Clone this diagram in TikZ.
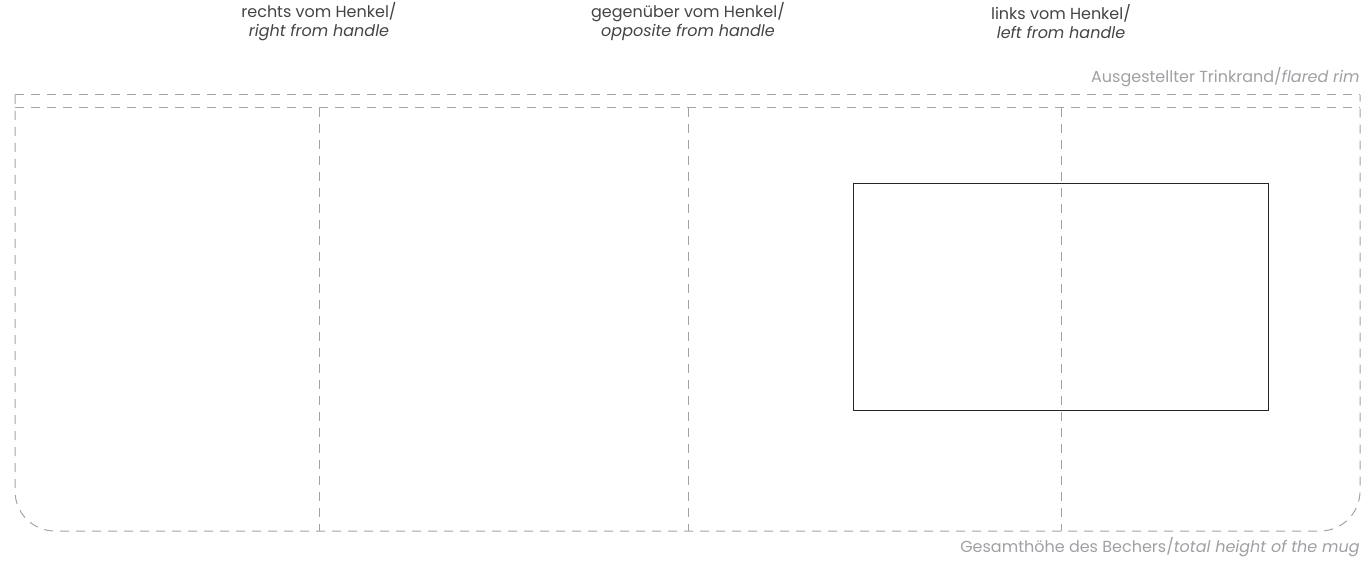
\documentclass[tikz,border=0pt]{standalone}
\usepackage{fontspec}
\setmainfont{Poppins}
\usepackage{tikz}
\usetikzlibrary{positioning}

\definecolor{linegray}{HTML}{A3A3A7}
\definecolor{labelgray}{HTML}{A0A0A4}
\definecolor{textdark}{HTML}{444444}

\tikzset{
  guide/.style={draw=linegray, line width=0.5pt, dash pattern=on 4.5pt off 3.5pt},
  sidelabel/.style={font=\fontsize{8}{9.5}\selectfont, text=textdark, align=center, inner sep=0pt},
  rimlabel/.style={font=\fontsize{8}{9.5}\selectfont, text=labelgray, inner sep=0pt},
}

\begin{document}
\begin{tikzpicture}[x=0.5pt, y=-0.5pt]

% canvas
\useasboundingbox (0,0) rectangle (1364,561);

% outline of the mug wrap
\draw[guide] (15,95) -- (1360,95);
\draw[guide, rounded corners=20pt] (15,95) -- (15,531) -- (1360,531) -- (1360,95);
\draw[guide] (15,108) -- (1360,108);

% side dividers
\foreach \x/\name in {319/right, 688/opposite, 1061/left}
  \draw[guide] (\x,108) -- (\x,531);

% print area
\draw[draw=black!85, line width=0.5pt] (853,184) rectangle (1268,410);

% side labels
\node[sidelabel] (right) at (319,22) {rechts vom Henkel/\\\textit{right from handle}};
\node[sidelabel] (opposite) at (688,22) {gegenüber vom Henkel/\\\textit{opposite from handle}};
\node[sidelabel] (left) at (1061,22) {links vom Henkel/\\\textit{left from handle}};

% rim and height labels
\node[rimlabel, anchor=base east] (rim) at (1360,83) {Ausgestellter Trinkrand/\textit{flared rim}};
\node[rimlabel, anchor=base east] (height) at (1360,552) {Gesamthöhe des Bechers/\textit{total height of the mug}};

\end{tikzpicture}
\end{document}
